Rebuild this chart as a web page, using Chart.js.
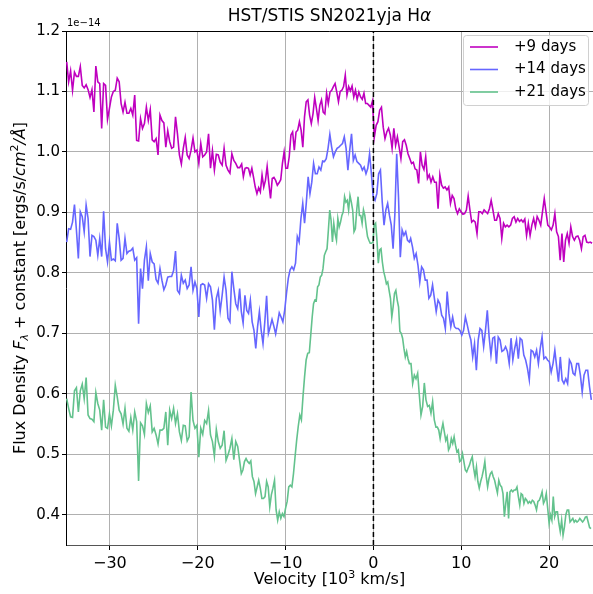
<!DOCTYPE html>
<html>
<head>
<meta charset="utf-8">
<script src="https://cdn.jsdelivr.net/npm/chart.js@4.4.1/dist/chart.umd.min.js"></script>
<style>
    html, body { margin: 0; padding: 0; background: #fff; }
</style>
</head>
<body>
<canvas id="spectra" width="593" height="594"></canvas>
<script>
// Axis ticks (velocity in 10^3 km/s, flux in 1e-14 erg/s/cm^2/A)
const X_TICKS = [-30, -20, -10, 0, 10, 20];
const Y_TICKS = [0.4, 0.5, 0.6, 0.7, 0.8, 0.9, 1.0, 1.1, 1.2];

// +9 days: flux, in three stretches of velocity
const day9Vel = [[-34.92, -15.23], [-15.0, -0.11], [0.11, 24.89]];
const day9A = [1.149,1.116,1.134,1.102,1.132,1.125,1.125,1.141,1.110,1.106,1.111,1.103,1.090,1.103,1.066,1.142,1.116,1.113,1.039,1.113,1.110,1.054,1.072,1.091,1.100,1.102,1.122,1.116,1.080,1.066,1.082,1.064,1.064,1.072,1.061,1.094,1.019,1.018,1.055,1.039,1.047,1.074,1.052,1.070,1.020,1.017,1.022,0.995,1.061,1.052,1.048,1.008,1.035,1.017,1.006,1.008,1.058,1.030,0.995,0.980,1.006,1.024,0.995,0.989,1.003,1.023,1.000,1.003,0.981,1.014,0.992,0.995,1.000,1.030,0.973,1.002,0.970,0.996,0.995,0.983,0.978,1.006,0.978,0.970,0.965,0.997,0.986,0.981,0.974,0.974];
const day9B = [0.980,0.959,0.973,0.974,0.973,0.962,0.973,0.958,0.942,0.931,0.941,0.934,0.962,0.942,0.953,0.976,0.948,0.923,0.956,0.958,0.953,0.945,0.949,0.954,0.981,1.000,0.973,0.973,0.992,1.028,1.033,1.003,1.033,1.036,1.050,1.036,1.008,1.058,1.083,1.086,1.061,1.047,1.063,1.090,1.072,1.052,1.077,1.086,1.066,1.063,1.097,1.080,1.099,1.102,1.108,1.113,1.099,1.083,1.100,1.102,1.108,1.127,1.094,1.108,1.101,1.109,1.091,1.102,1.087,1.099,1.091,1.087,1.097,1.080,1.080,1.077,1.074,1.084];
const day9C = [1.025,1.044,1.050,1.069,1.074,1.041,1.022,1.033,1.039,1.028,1.006,1.039,1.011,1.025,1.008,0.989,1.017,1.020,1.011,0.997,0.989,0.981,0.983,0.972,0.970,0.948,1.000,0.978,0.971,0.992,0.956,0.962,0.950,0.959,0.950,0.950,0.906,0.962,0.945,0.940,0.942,0.937,0.942,0.915,0.928,0.923,0.906,0.898,0.906,0.901,0.897,0.898,0.904,0.927,0.904,0.884,0.887,0.884,0.865,0.901,0.901,0.898,0.904,0.901,0.898,0.906,0.920,0.904,0.887,0.887,0.898,0.890,0.857,0.882,0.876,0.879,0.876,0.879,0.890,0.893,0.884,0.890,0.885,0.888,0.884,0.889,0.862,0.882,0.862,0.879,0.890,0.876,0.893,0.887,0.879,0.901,0.923,0.901,0.879,0.876,0.871,0.879,0.898,0.868,0.860,0.821,0.865,0.818,0.854,0.865,0.849,0.876,0.860,0.854,0.860,0.861,0.854,0.840,0.860,0.862,0.851,0.850,0.851,0.849];

// +14 days
const day14Vel = [[-34.92, -15.23], [-15.04, 4.09], [4.24, 24.81]];
const day14A = [0.851,0.873,0.872,0.884,0.913,0.871,0.824,0.901,0.893,0.868,0.912,0.890,0.827,0.862,0.860,0.854,0.829,0.857,0.827,0.902,0.840,0.818,0.851,0.821,0.823,0.820,0.882,0.857,0.821,0.824,0.857,0.832,0.836,0.837,0.841,0.821,0.825,0.716,0.807,0.774,0.821,0.843,0.787,0.832,0.818,0.815,0.789,0.783,0.807,0.788,0.772,0.780,0.793,0.794,0.794,0.804,0.836,0.771,0.766,0.796,0.783,0.788,0.774,0.780,0.810,0.771,0.785,0.774,0.727,0.780,0.782,0.780,0.758,0.782,0.777,0.755,0.706,0.758,0.771,0.737,0.763,0.793,0.771,0.725,0.719,0.802,0.774,0.749,0.741,0.774];
const day14B = [0.736,0.717,0.763,0.738,0.733,0.755,0.719,0.705,0.675,0.711,0.736,0.705,0.683,0.719,0.762,0.700,0.711,0.723,0.712,0.699,0.716,0.734,0.727,0.719,0.738,0.766,0.791,0.805,0.810,0.805,0.816,0.860,0.851,0.890,0.915,0.882,0.917,0.959,0.931,0.950,0.981,0.964,0.964,0.975,0.970,0.985,0.984,0.989,1.006,1.029,1.008,0.992,1.000,1.006,1.008,1.011,1.014,1.025,1.006,0.970,1.003,1.030,0.986,0.995,0.984,0.981,0.978,0.970,0.975,0.964,0.973,0.997,0.964,0.926,0.920,0.931,0.964,0.970,0.917,0.879,0.904,0.915,0.895,0.879,0.840,0.898,0.997,0.926,0.826,0.871,0.862,0.868,0.854,0.851];
const day14C = [0.857,0.843,0.824,0.832,0.813,0.785,0.810,0.805,0.788,0.788,0.758,0.763,0.780,0.758,0.736,0.755,0.749,0.730,0.725,0.708,0.769,0.733,0.711,0.727,0.711,0.708,0.708,0.705,0.697,0.705,0.727,0.714,0.700,0.689,0.661,0.683,0.639,0.689,0.708,0.705,0.678,0.705,0.738,0.694,0.664,0.692,0.694,0.650,0.694,0.689,0.670,0.672,0.678,0.670,0.650,0.692,0.656,0.675,0.689,0.658,0.692,0.689,0.664,0.656,0.642,0.623,0.672,0.670,0.661,0.672,0.650,0.675,0.694,0.658,0.661,0.656,0.653,0.636,0.650,0.672,0.645,0.620,0.661,0.623,0.617,0.625,0.617,0.656,0.650,0.634,0.631,0.650,0.650,0.631,0.603,0.631,0.639,0.639,0.612,0.590];

// +21 days
const day21Vel = [[-34.92, -15.23], [-15.04, -7.12], [-6.97, 4.09], [4.28, 6.93], [7.12, 24.77]];
const day21A = [0.592,0.576,0.562,0.561,0.605,0.610,0.570,0.605,0.616,0.592,0.627,0.565,0.559,0.558,0.554,0.602,0.584,0.573,0.540,0.590,0.545,0.543,0.567,0.547,0.573,0.614,0.595,0.573,0.567,0.550,0.576,0.543,0.538,0.561,0.540,0.570,0.554,0.456,0.552,0.547,0.533,0.584,0.569,0.580,0.537,0.543,0.532,0.517,0.540,0.540,0.543,0.570,0.515,0.573,0.559,0.576,0.551,0.567,0.537,0.523,0.548,0.547,0.522,0.529,0.603,0.556,0.543,0.548,0.495,0.543,0.533,0.556,0.551,0.572,0.532,0.521,0.497,0.541,0.521,0.510,0.515,0.539,0.490,0.499,0.510,0.526,0.491,0.521,0.513,0.489];
const day21B = [0.468,0.474,0.488,0.493,0.488,0.485,0.489,0.463,0.455,0.435,0.446,0.457,0.444,0.427,0.427,0.430,0.455,0.446,0.413,0.433,0.444,0.457,0.408,0.391,0.405,0.394,0.402,0.397,0.411,0.422,0.446,0.449,0.446,0.468,0.496,0.523,0.546,0.565,0.557,0.595,0.628,0.656,0.667,0.668,0.700];
const day21C = [0.727,0.749,0.755,0.754,0.777,0.780,0.793,0.796,0.807,0.829,0.835,0.840,0.871,0.904,0.887,0.851,0.882,0.865,0.854,0.890,0.876,0.884,0.895,0.901,0.926,0.917,0.920,0.904,0.928,0.917,0.904,0.868,0.873,0.904,0.926,0.895,0.895,0.882,0.904,0.895,0.876,0.860,0.854,0.849,0.849,0.851,0.879,0.882,0.854,0.816,0.838,0.840,0.818,0.802,0.793,0.782,0.785,0.771,0.758,0.727,0.744,0.766,0.771,0.755,0.744,0.703,0.700,0.692,0.675,0.661,0.670,0.658,0.650];
const day21D = [0.650,0.617,0.631,0.625,0.634,0.598,0.565,0.579,0.618,0.590,0.579,0.581,0.568,0.587,0.557];
const day21E = [0.545,0.545,0.540,0.526,0.540,0.551,0.537,0.523,0.529,0.507,0.512,0.526,0.518,0.529,0.515,0.504,0.507,0.488,0.490,0.501,0.488,0.474,0.471,0.477,0.482,0.490,0.496,0.477,0.463,0.479,0.455,0.444,0.455,0.463,0.474,0.488,0.463,0.446,0.460,0.468,0.471,0.463,0.457,0.446,0.436,0.457,0.449,0.446,0.435,0.397,0.419,0.438,0.394,0.438,0.441,0.438,0.441,0.441,0.446,0.430,0.416,0.435,0.433,0.419,0.427,0.424,0.419,0.422,0.419,0.424,0.422,0.416,0.408,0.422,0.424,0.430,0.438,0.419,0.424,0.435,0.411,0.386,0.400,0.391,0.430,0.397,0.405,0.405,0.386,0.372,0.391,0.366,0.380,0.400,0.408,0.408,0.388,0.391,0.394,0.388,0.391,0.388,0.390,0.394,0.391,0.388,0.391,0.396,0.397,0.388,0.379,0.377];

const FONT = "'DejaVu Sans', 'Liberation Sans', sans-serif";

// Spread each stretch of flux values evenly over its velocity range
function spectrum(ranges, parts) {
    return parts.flatMap((flux, i) => {
        const [v0, v1] = ranges[i];
        const step = (v1 - v0) / (flux.length - 1);
        return flux.map((f, j) => ({ x: v0 + j * step, y: f }));
    });
}

const tickFmtX = v => (v < 0 ? '\u2212' + Math.abs(v) : String(v));

// Draw a row of text pieces (normal / italic / sub / sup) centred at 0
function drawPieces(ctx, pieces, size) {
    const widths = pieces.map(p => {
        ctx.font = `${p.italic ? 'italic ' : ''}${p.small ? Math.round(size * 0.7) : size}px ${FONT}`;
        return ctx.measureText(p.t).width;
    });
    let x = -widths.reduce((a, b) => a + b, 0) / 2;
    pieces.forEach((p, i) => {
        ctx.font = `${p.italic ? 'italic ' : ''}${p.small ? Math.round(size * 0.7) : size}px ${FONT}`;
        ctx.fillText(p.t, x, p.dy || 0);
        x += widths[i];
    });
}

// Title, axis labels, offset text, top spine and legend
const annotations = {
    id: 'annotations',
    afterDraw(chart) {
        const { ctx, chartArea: a } = chart;
        ctx.save();
        ctx.fillStyle = '#000';
        ctx.textBaseline = 'middle';
        ctx.textAlign = 'left';

        // top spine
        ctx.strokeStyle = '#000';
        ctx.lineWidth = 1;
        ctx.beginPath();
        ctx.moveTo(a.left, a.top + 0.5);
        ctx.lineTo(a.right, a.top + 0.5);
        ctx.stroke();

        // title
        ctx.save();
        ctx.translate((a.left + a.right) / 2, 17);
        drawPieces(ctx, [{ t: 'HST/STIS SN2021yja H' }, { t: '\u03b1', italic: true }], 17);
        ctx.restore();

        // x label
        ctx.save();
        ctx.translate((a.left + a.right) / 2, 580);
        drawPieces(ctx, [{ t: 'Velocity [10' }, { t: '3', small: true, dy: -5 }, { t: ' km/s]' }], 16);
        ctx.restore();

        // y label
        ctx.save();
        ctx.translate(21, (a.top + a.bottom) / 2);
        ctx.rotate(-Math.PI / 2);
        drawPieces(ctx, [
            { t: 'Flux Density ' },
            { t: 'F', italic: true },
            { t: '\u03bb', italic: true, small: true, dy: 4 },
            { t: ' + constant [ergs/s/' },
            { t: 'cm', italic: true },
            { t: '2', small: true, dy: -6 },
            { t: '/\u00c5', italic: true },
            { t: ']' }
        ], 16);
        ctx.restore();

        // offset text
        ctx.font = `10px ${FONT}`;
        ctx.fillText('1e\u221214', a.left + 1, a.top - 8);

        // legend
        const box = { x: 463, y: 35, w: 125, h: 70 };
        ctx.beginPath();
        ctx.roundRect(box.x + 0.5, box.y + 0.5, box.w, box.h, 3);
        ctx.fillStyle = 'rgba(255,255,255,0.8)';
        ctx.fill();
        ctx.strokeStyle = '#d0d0d0';
        ctx.stroke();
        ctx.font = `15px ${FONT}`;
        chart.data.datasets.filter(d => d.label).forEach((d, i) => {
            const y = box.y + 12 + i * 22.5;
            ctx.strokeStyle = d.borderColor;
            ctx.lineWidth = 1.6;
            ctx.beginPath();
            ctx.moveTo(box.x + 7, y);
            ctx.lineTo(box.x + 35, y);
            ctx.stroke();
            ctx.fillStyle = '#000';
            ctx.fillText(d.label, box.x + 51, y);
        });
        ctx.restore();
    }
};

const lineStyle = { borderWidth: 1.6, pointRadius: 0, tension: 0, fill: false };

new Chart(document.getElementById('spectra'), {
    type: 'line',
    data: {
        datasets: [
            {
                label: null,
                data: [{ x: 0, y: 0.35 }, { x: 0, y: 1.2 }],
                borderColor: '#000',
                borderDash: [5, 3],
                borderWidth: 1.5,
                pointRadius: 0,
                order: 0
            },
            { label: '+9 days', data: spectrum(day9Vel, [day9A, day9B, day9C]), borderColor: '#bf00bf', order: 3, ...lineStyle },
            { label: '+14 days', data: spectrum(day14Vel, [day14A, day14B, day14C]), borderColor: 'rgb(102,102,255)', order: 2, ...lineStyle },
            { label: '+21 days', data: spectrum(day21Vel, [day21A, day21B, day21C, day21D, day21E]), borderColor: 'rgb(99,194,141)', order: 1, ...lineStyle }
        ]
    },
    options: {
        responsive: false,
        animation: false,
        layout: { padding: { top: 31, right: 0, left: 0, bottom: 0 } },
        plugins: {
            legend: { display: false },
            tooltip: { enabled: false },
            title: { display: false }
        },
        scales: {
            x: {
                type: 'linear',
                min: -35,
                max: 25,
                afterBuildTicks: s => { s.ticks = X_TICKS.map(v => ({ value: v })); },
                afterFit: s => { s.height = 49; },
                grid: { color: '#b0b0b0', lineWidth: 1, tickColor: '#000', tickLength: 5 },
                border: { display: true, color: '#555', width: 1 },
                ticks: {
                    font: { family: FONT, size: 16 },
                    color: '#000',
                    padding: 4,
                    maxRotation: 0,
                    autoSkip: false,
                    callback: v => tickFmtX(v)
                }
            },
            y: {
                type: 'linear',
                min: 0.35,
                max: 1.2,
                afterBuildTicks: s => { s.ticks = Y_TICKS.map(v => ({ value: v })); },
                afterFit: s => { s.width = 66; },
                grid: { color: '#b0b0b0', lineWidth: 1, tickColor: '#000', tickLength: 4 },
                border: { display: true, color: '#000', width: 1 },
                ticks: {
                    font: { family: FONT, size: 15 },
                    color: '#000',
                    padding: 2,
                    autoSkip: false,
                    callback: v => v.toFixed(1)
                }
            }
        }
    },
    plugins: [annotations]
});
</script>
</body>
</html>
